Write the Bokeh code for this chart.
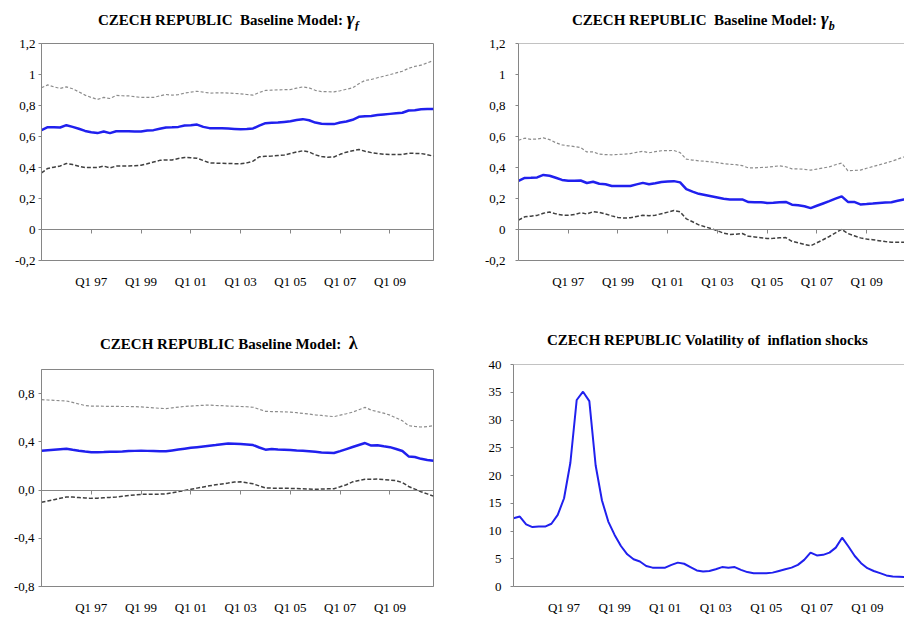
from bokeh.plotting import figure
from bokeh.layouts import column, row
from bokeh.models import LinearAxis, FixedTicker, Range1d, Div
from bokeh.embed import file_html
from bokeh.resources import INLINE

# quarterly sample Q1 1995 - Q4 2010
quarters = ["Q%d %02d" % (q, y % 100) for y in range(1995, 2011) for q in range(1, 5)]
x_labels = ["Q1 97", "Q1 99", "Q1 01", "Q1 03", "Q1 05", "Q1 07", "Q1 09"]

# gamma_f : median, upper and lower band
gf_med = [0.641, 0.660, 0.660, 0.658, 0.673, 0.662, 0.650, 0.636, 0.628, 0.622, 0.632, 0.622, 0.634, 0.634, 0.634, 0.633,
          0.632, 0.639, 0.641, 0.650, 0.658, 0.659, 0.662, 0.671, 0.672, 0.677, 0.662, 0.654, 0.654, 0.653, 0.651, 0.649,
          0.647, 0.648, 0.652, 0.670, 0.686, 0.688, 0.690, 0.694, 0.698, 0.706, 0.712, 0.705, 0.690, 0.682, 0.680, 0.680,
          0.690, 0.697, 0.708, 0.727, 0.731, 0.733, 0.738, 0.742, 0.746, 0.750, 0.753, 0.768, 0.770, 0.776, 0.778, 0.778]
gf_up = [0.914, 0.933, 0.920, 0.910, 0.920, 0.908, 0.888, 0.867, 0.852, 0.839, 0.852, 0.845, 0.865, 0.863, 0.862, 0.857,
         0.852, 0.852, 0.852, 0.862, 0.871, 0.867, 0.870, 0.880, 0.886, 0.892, 0.886, 0.880, 0.881, 0.882, 0.880, 0.878,
         0.875, 0.871, 0.867, 0.884, 0.897, 0.899, 0.901, 0.902, 0.903, 0.912, 0.920, 0.914, 0.898, 0.890, 0.889, 0.888,
         0.895, 0.905, 0.914, 0.940, 0.962, 0.968, 0.979, 0.989, 0.999, 1.010, 1.021, 1.040, 1.052, 1.060, 1.075, 1.090]
gf_lo = [0.365, 0.394, 0.402, 0.410, 0.426, 0.419, 0.408, 0.400, 0.400, 0.400, 0.409, 0.398, 0.409, 0.409, 0.410, 0.411,
         0.415, 0.424, 0.435, 0.446, 0.449, 0.449, 0.458, 0.465, 0.463, 0.460, 0.445, 0.430, 0.428, 0.427, 0.426, 0.425,
         0.424, 0.430, 0.441, 0.469, 0.472, 0.474, 0.477, 0.480, 0.490, 0.500, 0.508, 0.500, 0.482, 0.471, 0.466, 0.468,
         0.485, 0.499, 0.508, 0.516, 0.505, 0.496, 0.490, 0.485, 0.484, 0.484, 0.484, 0.492, 0.491, 0.490, 0.483, 0.473]

# gamma_b
gb_med = [0.314, 0.333, 0.334, 0.336, 0.352, 0.347, 0.334, 0.320, 0.314, 0.315, 0.316, 0.300, 0.308, 0.295, 0.292, 0.281,
          0.280, 0.280, 0.281, 0.291, 0.301, 0.292, 0.299, 0.307, 0.310, 0.312, 0.304, 0.260, 0.244, 0.230, 0.222, 0.214,
          0.206, 0.198, 0.194, 0.194, 0.194, 0.177, 0.176, 0.176, 0.171, 0.173, 0.176, 0.178, 0.160, 0.156, 0.150, 0.138,
          0.153, 0.168, 0.183, 0.199, 0.214, 0.178, 0.178, 0.162, 0.164, 0.167, 0.171, 0.174, 0.176, 0.185, 0.194, 0.200]
gb_up = [0.576, 0.589, 0.582, 0.584, 0.591, 0.580, 0.560, 0.546, 0.540, 0.535, 0.529, 0.500, 0.501, 0.486, 0.483, 0.482,
         0.484, 0.486, 0.490, 0.498, 0.505, 0.495, 0.502, 0.508, 0.509, 0.510, 0.496, 0.454, 0.448, 0.443, 0.440, 0.436,
         0.431, 0.425, 0.421, 0.418, 0.412, 0.397, 0.398, 0.400, 0.402, 0.406, 0.411, 0.405, 0.391, 0.391, 0.388, 0.383,
         0.390, 0.397, 0.404, 0.418, 0.428, 0.379, 0.381, 0.383, 0.395, 0.406, 0.417, 0.428, 0.440, 0.454, 0.468, 0.480]
gb_lo = [0.060, 0.082, 0.086, 0.091, 0.105, 0.113, 0.101, 0.093, 0.092, 0.096, 0.108, 0.100, 0.115, 0.111, 0.100, 0.088,
         0.077, 0.074, 0.076, 0.084, 0.092, 0.089, 0.092, 0.102, 0.112, 0.123, 0.114, 0.069, 0.050, 0.030, 0.018, 0.006,
         -0.008, -0.024, -0.032, -0.030, -0.026, -0.044, -0.048, -0.053, -0.058, -0.057, -0.054, -0.052, -0.076, -0.086,
         -0.096, -0.105, -0.086, -0.066, -0.045, -0.022, 0.001, -0.026, -0.040, -0.054, -0.062, -0.066, -0.072, -0.078,
         -0.082, -0.082, -0.082, -0.082]

# lambda
lam_med = [0.326, 0.331, 0.335, 0.339, 0.343, 0.334, 0.326, 0.319, 0.313, 0.314, 0.315, 0.317, 0.318, 0.320, 0.323, 0.325,
           0.326, 0.325, 0.324, 0.322, 0.322, 0.329, 0.336, 0.343, 0.350, 0.356, 0.362, 0.368, 0.373, 0.380, 0.387, 0.385,
           0.382, 0.378, 0.373, 0.353, 0.335, 0.340, 0.337, 0.335, 0.332, 0.329, 0.327, 0.322, 0.317, 0.312, 0.310, 0.307,
           0.323, 0.340, 0.357, 0.374, 0.390, 0.369, 0.372, 0.363, 0.356, 0.341, 0.324, 0.279, 0.274, 0.259, 0.249, 0.243]
lam_up = [0.750, 0.747, 0.744, 0.741, 0.739, 0.727, 0.714, 0.701, 0.697, 0.696, 0.695, 0.694, 0.694, 0.693, 0.693, 0.692,
          0.690, 0.686, 0.682, 0.678, 0.676, 0.682, 0.688, 0.694, 0.697, 0.700, 0.703, 0.705, 0.702, 0.700, 0.697, 0.695,
          0.693, 0.691, 0.687, 0.670, 0.653, 0.651, 0.650, 0.648, 0.647, 0.642, 0.636, 0.630, 0.624, 0.619, 0.614, 0.609,
          0.621, 0.633, 0.646, 0.666, 0.686, 0.663, 0.650, 0.638, 0.621, 0.598, 0.575, 0.534, 0.528, 0.523, 0.527, 0.534]
lam_lo = [-0.102, -0.091, -0.080, -0.068, -0.057, -0.058, -0.062, -0.066, -0.069, -0.067, -0.064, -0.061, -0.058, -0.052,
          -0.046, -0.040, -0.036, -0.035, -0.034, -0.034, -0.032, -0.023, -0.013, -0.004, 0.006, 0.016, 0.026, 0.035,
          0.044, 0.051, 0.058, 0.066, 0.068, 0.060, 0.052, 0.034, 0.017, 0.016, 0.015, 0.015, 0.014, 0.012, 0.010, 0.008,
          0.006, 0.008, 0.010, 0.011, 0.027, 0.044, 0.068, 0.079, 0.089, 0.090, 0.091, 0.087, 0.083, 0.078, 0.062, 0.030,
          0.008, -0.014, -0.032, -0.050]

# volatility of inflation shocks
vol = [12.3, 12.6, 11.2, 10.7, 10.8, 10.8, 11.3, 12.9, 15.9, 22.3, 33.6, 35.1, 33.4, 21.8, 15.5, 11.7,
       9.3, 7.3, 5.8, 4.9, 4.5, 3.7, 3.4, 3.4, 3.4, 3.9, 4.3, 4.1, 3.5, 2.9, 2.7, 2.8,
       3.1, 3.5, 3.4, 3.5, 3.0, 2.6, 2.4, 2.4, 2.4, 2.5, 2.8, 3.1, 3.4, 3.9, 4.8, 6.1,
       5.6, 5.7, 6.1, 7.0, 8.8, 7.2, 5.5, 4.2, 3.3, 2.8, 2.4, 2.0, 1.8, 1.75, 1.7, 1.7]

yt_top = [-0.2, 0, 0.2, 0.4, 0.6, 0.8, 1, 1.2]
yl_top = ["-0,2", "0", "0,2", "0,4", "0,6", "0,8", "1", "1,2"]
yt_lam = [-0.8, -0.4, 0, 0.4, 0.8]
yl_lam = ["-0,8", "-0,4", "0,0", "0,4", "0,8"]
yt_vol = [0, 5, 10, 15, 20, 25, 30, 35, 40]
yl_vol = ["0", "5", "10", "15", "20", "25", "30", "35", "40"]

x = list(range(len(quarters)))
x_pos = [quarters.index(l) for l in x_labels]

FONT = "Liberation Serif"
GREY = "#868686"
BLUE = "#2020ee"


def panel(fw, fh, x_end, y_lo, y_hi, yt, yl, left, right, top, bottom, ystand, cut):
    p = figure(frame_width=fw, frame_height=fh, x_range=Range1d(0, x_end), y_range=Range1d(y_lo, y_hi),
               output_backend="svg", toolbar_location=None,
               min_border_left=left, min_border_right=right, min_border_top=top, min_border_bottom=bottom)
    p.grid.visible = False
    p.outline_line_color = None if cut else GREY

    ax = p.yaxis[0]
    ax.ticker = FixedTicker(ticks=yt)
    ax.major_label_overrides = dict(zip(yt, yl))
    ax.axis_line_color = GREY
    ax.major_tick_line_color = GREY
    ax.major_tick_out = 3
    ax.major_tick_in = 0
    ax.minor_tick_line_color = None
    ax.major_label_standoff = ystand
    ax.major_label_text_font = FONT
    ax.major_label_text_font_size = "13px"
    ax.major_label_text_color = "black"

    bx = p.below[0]
    bx.ticker = FixedTicker(ticks=x_pos)
    bx.major_label_overrides = dict(zip(x_pos, x_labels))
    bx.axis_line_color = GREY
    bx.major_tick_line_color = None
    bx.major_tick_out = 0
    bx.major_tick_in = 0
    bx.minor_tick_line_color = None
    bx.major_label_standoff = 13
    bx.major_label_text_font = FONT
    bx.major_label_text_font_size = "13px"
    bx.major_label_text_color = "black"

    # category axis crossing at zero with small tick marks
    zx = LinearAxis(fixed_location=0, ticker=FixedTicker(ticks=[0] + x_pos), axis_line_color=GREY,
                    major_tick_line_color=GREY, major_tick_out=4, major_tick_in=0,
                    minor_tick_line_color=None, major_label_text_color=None)
    p.add_layout(zx, "below")

    if cut:
        # right edge runs off the page: only a top border line
        top_line = LinearAxis(fixed_location=y_hi, ticker=FixedTicker(ticks=[]), axis_line_color=GREY,
                              major_label_text_color=None, major_tick_line_color=None, minor_tick_line_color=None)
        p.add_layout(top_line, "above")
    return p


def heading(html, width, height, pad_left, pad_top):
    style = ("font-family:'Liberation Serif';font-weight:bold;font-size:15px;line-height:15px;"
             "color:black;white-space:pre;padding-left:%dpx;padding-top:%dpx;" % (pad_left, pad_top))
    return Div(text='<div style="%s">%s</div>' % (style, html), width=width, height=height, margin=(0, 0, 0, 0))


def bands(p, med, up, lo, w=2.5):
    p.line(x, up, line_color="#8c8c8c", line_width=1.2, line_dash="3 2")
    p.line(x, lo, line_color="#404040", line_width=1.5, line_dash="4 2")
    p.line(x, med, line_color=BLUE, line_width=w)


SYM = '<i style="font-size:19px">%s<sub style="font-size:12px">%s</sub></i>'

p1 = panel(392, 217, 63, -0.2, 1.2, yt_top, yl_top, 41, 25, 13, 40, 3, False)
bands(p1, gf_med, gf_up, gf_lo)
d1 = heading("CZECH REPUBLIC  Baseline Model: " + SYM % ("\u03b3", "f"), 458, 30, 98, 11)

p2 = panel(386, 217, 62.1, -0.2, 1.2, yt_top, yl_top, 60, 0, 13, 40, 10, True)
bands(p2, gb_med, gb_up, gb_lo)
d2 = heading("CZECH REPUBLIC  Baseline Model: " + SYM % ("\u03b3", "b"), 446, 30, 114, 11)

p3 = panel(392, 217, 63, -0.8, 1.0, yt_lam, yl_lam, 41, 25, 14, 27, 4, False)
bands(p3, lam_med, lam_up, lam_lo)
d3 = heading('CZECH REPUBLIC Baseline Model:  <span style="font-size:18px">\u03bb</span>', 458, 55, 100, 36)

p4 = panel(391, 222, 61.87, 0, 40, yt_vol, yl_vol, 55, 0, 9, 27, 9, True)
p4.line(x, vol, line_color=BLUE, line_width=2)
d4 = heading("CZECH REPUBLIC Volatility of  inflation shocks", 446, 55, 89, 33)

layout = column(row(column(d1, p1), column(d2, p2)), row(column(d3, p3), column(d4, p4)))
open("out.html", "w").write(file_html(layout, INLINE))
